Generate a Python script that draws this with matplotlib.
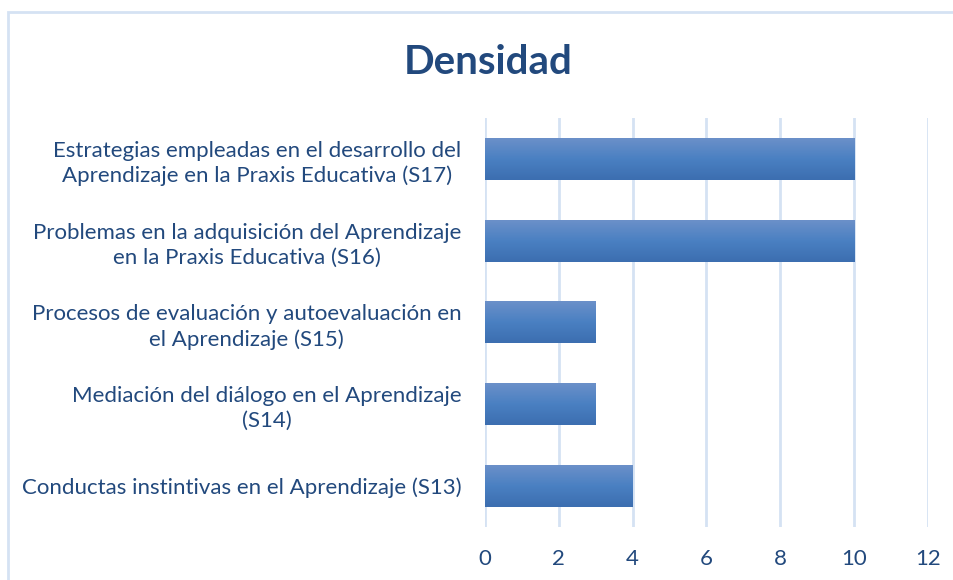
import numpy as np
import matplotlib.pyplot as plt
from matplotlib.colors import LinearSegmentedColormap

# datos
categorias = [
    "Conductas instintivas en el Aprendizaje (S13)",
    "Mediación del diálogo en el Aprendizaje\n(S14)",
    "Procesos de evaluación y autoevaluación en\nel Aprendizaje (S15)",
    "Problemas en la adquisición del Aprendizaje\nen la Praxis Educativa (S16)",
    "Estrategias empleadas en el desarrollo del\nAprendizaje en la Praxis Educativa (S17)",
]
valores = [4, 3, 3, 10, 10]
ticks_x = [0, 2, 4, 6, 8, 10, 12]

azul_texto = '#22497d'
azul_grid = '#d5e2f3'

plt.rcParams['font.family'] = ['Lato', 'DejaVu Sans']

fig = plt.figure(figsize=(9.54, 5.8), dpi=100)
ax = fig.add_axes([0.5084, 0.0914, 0.4643, 0.7052])

y = np.arange(len(categorias))
barras = ax.barh(y, valores, height=0.51, color='#4a7ec0', zorder=2)

# degradado vertical en cada barra
grad = np.linspace(0, 1, 100).reshape(-1, 1)
cmap = LinearSegmentedColormap.from_list('g', ['#3c6eb0', '#4a80c2', '#6b90c9'])
for b in barras:
    x0, y0 = b.get_x(), b.get_y()
    w, h = b.get_width(), b.get_height()
    ax.imshow(grad, cmap=cmap, aspect='auto', origin='lower',
              extent=[x0, x0 + w, y0, y0 + h], zorder=3)

ax.set_xlim(0, 12)
ax.set_ylim(-0.5, 4.5)
ax.set_xticks(ticks_x)
ax.set_yticks(y)
ax.set_yticklabels(categorias, multialignment='center', linespacing=1.3)
ax.tick_params(axis='both', length=0, labelsize=16, colors=azul_texto)
ax.tick_params(axis='x', pad=16)
ax.tick_params(axis='y', pad=17)
ax.grid(axis='x', color=azul_grid, linewidth=2, zorder=0)
ax.set_axisbelow(True)
for s in ax.spines.values():
    s.set_visible(False)

fig.text(0.512, 0.893, 'Densidad', ha='center', va='center',
         fontsize=29, fontweight='bold', color=azul_texto)

# marco del gráfico
fig.add_artist(plt.Rectangle((8 / 954, -0.05), 1.2, 1 - 12 / 580 + 0.05,
                             transform=fig.transFigure, fill=False,
                             edgecolor=azul_grid, linewidth=2))

fig.savefig('out.png', dpi=100)
